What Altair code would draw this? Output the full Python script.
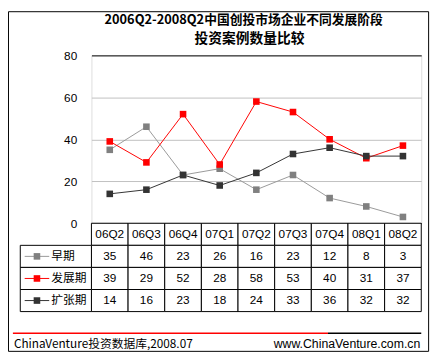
import altair as alt
import pandas as pd

quarters = ["06Q2", "06Q3", "06Q4", "07Q1", "07Q2", "07Q3", "07Q4", "08Q1", "08Q2"]
series_names = ["早期", "发展期", "扩张期"]
early = [35, 46, 23, 26, 16, 23, 12, 8, 3]
growth = [39, 29, 52, 28, 58, 53, 40, 31, 37]
expansion = [14, 16, 23, 18, 24, 33, 36, 32, 32]
line_colors = ["#999999", "#ff0000", "#333333"]
marker_colors = ["#808080", "#ff0000", "#333333"]
title_lines = ["2006Q2-2008Q2中国创投市场企业不同发展阶段", "投资案例数量比较"]
footer_left = ["ChinaVenture投资数据库,2008.07"]
footer_right = ["www.ChinaVenture.com.cn"]
y_ticks = [0, 20, 40, 60, 80]

W, H = 336, 171
LAT = "Liberation Sans"
CJK = "Noto Sans CJK SC"

values = [early, growth, expansion]
long = pd.DataFrame([{"q": q, "s": s, "v": v}
                     for s, vals in zip(series_names, values)
                     for q, v in zip(quarters, vals)])

rows = ["hdr"] + series_names
table = pd.DataFrame(
    [{"q": q, "row": "hdr", "t": q} for q in quarters]
    + [{"q": q, "row": s, "t": str(v)}
       for s, vals in zip(series_names, values)
       for q, v in zip(quarters, vals)])
legend_df = pd.DataFrame({"row": series_names})

xscale = alt.Scale(type="band", domain=quarters, paddingInner=0, paddingOuter=0)
rowscale = alt.Scale(type="band", domain=rows, range=[H, H + 90], paddingInner=0, paddingOuter=0)
c_line = alt.Scale(domain=series_names, range=line_colors)
c_mark = alt.Scale(domain=series_names, range=marker_colors)
yscale = alt.Scale(domain=[0, 80], nice=False)

X = alt.X("q:N", scale=xscale, axis=None, bandPosition=0.5)

one = pd.DataFrame({"a": [0]})

frame = alt.Chart(one).mark_rect(fill="transparent", stroke="black", strokeWidth=1).encode(
    x=alt.value(-84.5), x2=alt.value(343.5), y=alt.value(-44.5), y2=alt.value(301.5))

lines = alt.Chart(long).mark_line(strokeWidth=1).encode(
    x=X,
    y=alt.Y("v:Q", scale=yscale, axis=alt.Axis(
        values=y_ticks, grid=True,
        gridColor={"condition": {"test": "datum.value == 80 || datum.value == 0", "value": "black"},
                   "value": "#c0c0c0"},
        domain=False, ticks=False, tickSize=0, labelPadding=15, labelFontSize=12,
        labelFont=LAT, labelColor="black", title=None)),
    color=alt.Color("s:N", scale=c_line, legend=None),
)
points = alt.Chart(long).mark_point(shape="square", filled=True, size=45, opacity=1).encode(
    x=X,
    y=alt.Y("v:Q", scale=yscale, axis=None),
    color=alt.Color("s:N", scale=c_mark, legend=None),
)

cells = alt.Chart(table).mark_rect(fill="white", stroke="black", strokeWidth=1).encode(
    x=alt.X("q:N", scale=xscale, axis=None),
    y=alt.Y("row:N", scale=rowscale, axis=None),
)
cell_text = alt.Chart(table).mark_text(font=LAT, fontSize=12, color="black", baseline="middle").encode(
    x=X,
    y=alt.Y("row:N", scale=rowscale, axis=None, bandPosition=0.5),
    text="t:N",
)
leg_cells = alt.Chart(legend_df).mark_rect(fill="white", stroke="black", strokeWidth=1).encode(
    x=alt.value(-72.5), x2=alt.value(0),
    y=alt.Y("row:N", scale=rowscale, axis=None),
)
leg_rule = alt.Chart(legend_df).mark_rule(strokeWidth=1).encode(
    x=alt.value(-68), x2=alt.value(-43),
    y=alt.Y("row:N", scale=rowscale, axis=None, bandPosition=0.5),
    color=alt.Color("row:N", scale=c_line, legend=None),
)
leg_mark = alt.Chart(legend_df).mark_point(shape="square", filled=True, size=45, opacity=1).encode(
    x=alt.value(-55.5),
    y=alt.Y("row:N", scale=rowscale, axis=None, bandPosition=0.5),
    color=alt.Color("row:N", scale=c_mark, legend=None),
)
leg_text = alt.Chart(legend_df).mark_text(font=CJK, fontSize=12, color="black", align="left",
                                           baseline="middle").encode(
    x=alt.value(-41),
    y=alt.Y("row:N", scale=rowscale, axis=None, bandPosition=0.5),
    text="row:N",
)

title1 = alt.Chart(pd.DataFrame({"t": title_lines[:1]})).mark_text(
    font=CJK, fontSize=13, fontWeight="bold", color="black", baseline="middle").encode(
    x=alt.value(155), y=alt.value(-36), text="t:N")
title2 = alt.Chart(pd.DataFrame({"t": title_lines[1:]})).mark_text(
    font=CJK, fontSize=14, fontWeight="bold", color="black", baseline="middle").encode(
    x=alt.value(161), y=alt.value(-17), text="t:N")

red_line = alt.Chart(one).mark_rule(color="#ff0000", strokeWidth=1.5).encode(
    x=alt.value(-80), x2=alt.value(241), y=alt.value(283))
black_line = alt.Chart(one).mark_rule(color="black", strokeWidth=1.5).encode(
    x=alt.value(241), x2=alt.value(336), y=alt.value(283))
f_left = alt.Chart(pd.DataFrame({"t": footer_left})).mark_text(
    font=CJK, fontSize=12, color="black", align="left", baseline="middle").encode(
    x=alt.value(-79), y=alt.value(294), text="t:N")
f_right = alt.Chart(pd.DataFrame({"t": footer_right})).mark_text(
    font=LAT, fontSize=12.5, color="black", align="right", baseline="middle").encode(
    x=alt.value(335), y=alt.value(294), text="t:N")

chart = alt.layer(
    frame, lines, points, cells, cell_text, leg_cells, leg_rule, leg_mark, leg_text,
    title1, title2, red_line, black_line, f_left, f_right
).resolve_scale(y="independent", color="independent").properties(
    width=W, height=H,
    padding={"left": 85, "top": 45, "right": 14, "bottom": 134},
    autosize=alt.AutoSizeParams(type="none"),
).configure_view(stroke="black", strokeWidth=1, fill="white").configure(background="white")

chart.save("out.html", embed_options={"renderer": "svg", "actions": False})
